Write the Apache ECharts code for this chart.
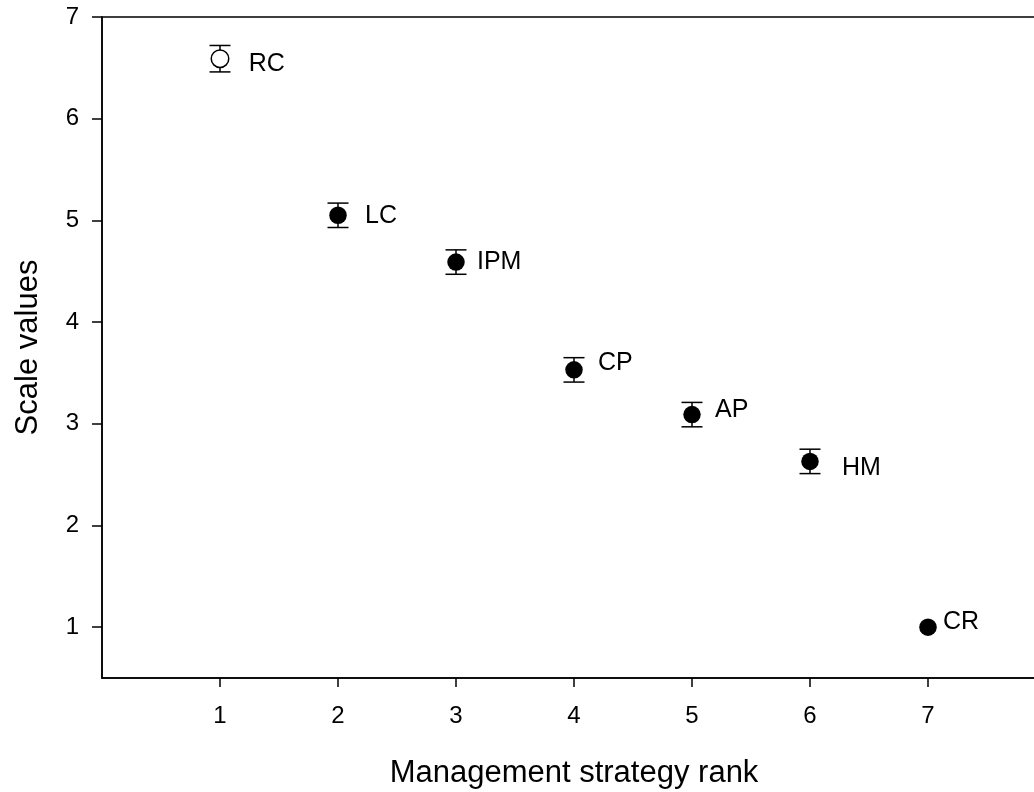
<!DOCTYPE html>
<html>
<head>
<meta charset="utf-8">
<script src="https://cdn.jsdelivr.net/npm/echarts@6/dist/echarts.min.js"></script>
<style>
  html, body { margin: 0; padding: 0; background: #fff; }
  #chart { width: 1034px; height: 792px; }
</style>
</head>
<body>
<div id="chart"></div>
<script>
// Strategy codes, their rank and mean scale value with error half-widths
const categories = ['RC', 'LC', 'IPM', 'CP', 'AP', 'HM', 'CR'];
const ranks = [1, 2, 3, 4, 5, 6, 7];
const scaleValues = [6.59, 5.05, 4.59, 3.53, 3.09, 2.63, 1.00];
const errors = [0.13, 0.12, 0.12, 0.12, 0.12, 0.12, 0];
const openMarker = [true, false, false, false, false, false, false];

const xTicks = [1, 2, 3, 4, 5, 6, 7];
const yTicks = [1, 2, 3, 4, 5, 6, 7];

// label placement next to each marker (pixels from marker centre)
const labelShift = [[28, 5], [27, 1], [21, 0], [24, -7], [23, -5], [32, 7], [15, -5]];

const FONT = '"Liberation Sans", Arial, sans-serif';
const MARK = 17.5;

const points = ranks.map((r, i) => ({
  value: [r, scaleValues[i]],
  itemStyle: openMarker[i]
    ? { color: '#fff', borderColor: '#000', borderWidth: 1.5, opacity: 1 }
    : { color: '#000', opacity: 1 },
  label: {
    show: true,
    formatter: categories[i],
    position: 'right',
    distance: 0,
    color: '#000',
    fontSize: 25,
    fontFamily: FONT,
    offset: [labelShift[i][0] - MARK / 2, labelShift[i][1]]
  }
}));

const errData = ranks.map((r, i) => [r, scaleValues[i], errors[i]]);

const chart = echarts.init(document.getElementById('chart'), null, { renderer: 'canvas' });

chart.setOption({
  backgroundColor: '#fff',
  animation: false,
  textStyle: { fontFamily: FONT },
  grid: {
    left: 102, top: 17, width: 944, height: 661,
    outerBoundsMode: 'none',
    containLabel: false,
    show: true, borderColor: '#000', borderWidth: 1.5, backgroundColor: 'transparent'
  },
  xAxis: {
    type: 'value', min: 0, max: 8,
    name: 'Management strategy rank',
    nameLocation: 'middle', nameGap: 80,
    nameTextStyle: { color: '#000', fontSize: 31, fontFamily: FONT },
    axisLine: { show: true, onZero: false, lineStyle: { color: '#000', width: 1.5 } },
    axisTick: { show: true, customValues: xTicks, length: 9, lineStyle: { color: '#000', width: 1.5 } },
    axisLabel: { customValues: xTicks, color: '#000', fontSize: 24, margin: 26, fontFamily: FONT },
    splitLine: { show: false }
  },
  yAxis: {
    type: 'value', min: 0.5, max: 7,
    name: 'Scale values',
    nameLocation: 'middle', nameGap: 58,
    nameTextStyle: { color: '#000', fontSize: 31, fontFamily: FONT },
    axisLine: { show: true, onZero: false, lineStyle: { color: '#000', width: 1.5 } },
    axisTick: { show: true, customValues: yTicks, length: 10, lineStyle: { color: '#000', width: 1.5 } },
    axisLabel: { customValues: yTicks, color: '#000', fontSize: 24, margin: 23, fontFamily: FONT },
    splitLine: { show: false }
  },
  series: [
    {
      type: 'custom',
      data: errData,
      z: 2,
      silent: true,
      renderItem: function (params, api) {
        const x = api.value(0), y = api.value(1), e = api.value(2);
        if (!e) return null;
        const top = api.coord([x, y + e]);
        const bot = api.coord([x, y - e]);
        const half = 10.5;
        const style = { stroke: '#000', lineWidth: 1.5 };
        return {
          type: 'group',
          children: [
            { type: 'line', shape: { x1: top[0], y1: top[1], x2: bot[0], y2: bot[1] }, style },
            { type: 'line', shape: { x1: top[0] - half, y1: top[1], x2: top[0] + half, y2: top[1] }, style },
            { type: 'line', shape: { x1: bot[0] - half, y1: bot[1], x2: bot[0] + half, y2: bot[1] }, style }
          ]
        };
      }
    },
    {
      type: 'scatter',
      symbol: 'circle',
      symbolSize: MARK,
      z: 3,
      data: points
    }
  ]
});
</script>
</body>
</html>
